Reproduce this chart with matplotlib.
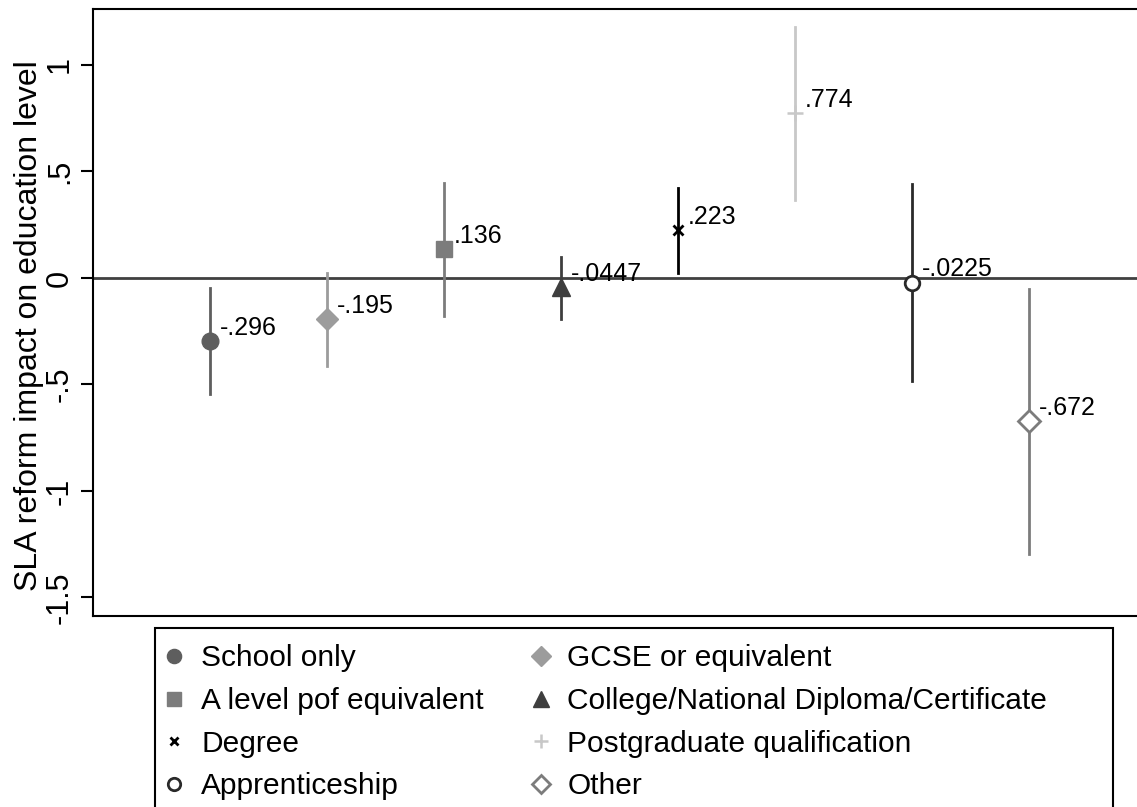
import matplotlib.pyplot as plt
from matplotlib.patches import Rectangle

plt.rcParams['font.family'] = ['Liberation Sans', 'DejaVu Sans']

# coefficient estimates and 95% CI bounds
labels = ["School only", "GCSE or equivalent", "A level pof equivalent",
          "College/National Diploma/Certificate", "Degree",
          "Postgraduate qualification", "Apprenticeship", "Other"]
coef = [-0.296, -0.195, 0.136, -0.0447, 0.223, 0.774, -0.0225, -0.672]
ci_low = [-0.545, -0.413, -0.178, -0.192, 0.023, 0.366, -0.484, -1.296]
ci_high = [-0.047, 0.023, 0.446, 0.099, 0.423, 1.178, 0.441, -0.052]
coef_text = ["-.296", "-.195", ".136", "-.0447", ".223", ".774", "-.0225", "-.672"]

markers = ['o', 'D', 's', '^', 'x', '+', 'o', 'D']
colors = ['#5e5e5e', '#9c9c9c', '#7c7c7c', '#3e3e3e', '#000000', '#c8c8c8', '#2a2a2a', '#7c7c7c']
filled = [True, True, True, True, True, True, False, False]
msizes = [12, 11.5, 12, 13, 7, 12, 10.5, 11]
mews = [1, 1, 1, 1, 2, 1.8, 2, 2]

fig = plt.figure(figsize=(11.37, 8.07), dpi=100)
ax = fig.add_axes([0.0818, 0.2367, 0.926, 0.7522])

ax.axhline(0, color='#404040', lw=2, zorder=1)

handles = []
for i in range(len(labels)):
    xpos = i + 1
    ax.plot([xpos, xpos], [ci_low[i], ci_high[i]], color=colors[i], lw=2, zorder=2)
    face = colors[i] if filled[i] else 'white'
    h, = ax.plot(xpos, coef[i], marker=markers[i], ms=msizes[i], color=colors[i],
                 mfc=face, mec=colors[i], mew=mews[i], ls='none', zorder=3, label=labels[i])
    handles.append(h)
    ax.annotate(coef_text[i], (xpos, coef[i]), xytext=(7, 1), textcoords='offset points',
                ha='left', va='bottom', fontsize=18)

ax.set_xlim(0, 9)
ax.set_ylim(-1.587, 1.263)
ax.set_yticks([-1.5, -1, -0.5, 0, 0.5, 1])
ax.set_yticklabels(['-1.5', '-1', '-.5', '0', '.5', '1'], rotation=90, va='center')
ax.tick_params(axis='y', labelsize=22, length=9, width=1.5, pad=4)
ax.set_xticks([])
ax.set_ylabel("SLA reform impact on education level", fontsize=23)
ax.yaxis.set_label_coords(-0.0465, 0.478)
for s in ax.spines.values():
    s.set_linewidth(1.5)

# legend box (runs past the bottom edge like the original)
fig.patches.append(Rectangle((0.1363, -0.05), 0.8426, 0.2718, transform=fig.transFigure,
                             fill=False, edgecolor='black', lw=1.5))

order = [0, 2, 4, 6, 1, 3, 5, 7]
leg = fig.legend([handles[k] for k in order], [labels[k] for k in order], ncol=2,
                 loc='upper left', bbox_to_anchor=(0.1363, 0.2218), fontsize=21.5,
                 frameon=False, handlelength=0.2, handletextpad=0.8, columnspacing=1.8,
                 labelspacing=0.49, borderpad=0.55, borderaxespad=0, markerscale=0.85)

fig.savefig("out.png", dpi=100)
